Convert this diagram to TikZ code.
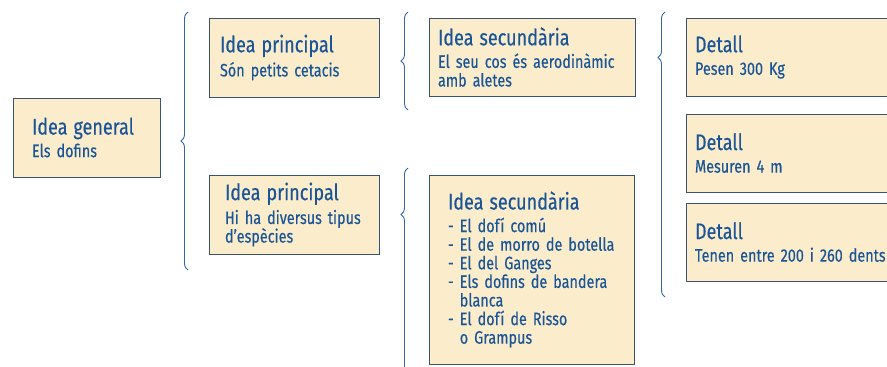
\documentclass[tikz,border=0pt]{standalone}
\usepackage{fontspec}
\setmainfont[FakeStretch=0.8, WordSpace=0.85, FakeBold=0.35]{Fira Sans}
\usepackage{xcolor}
\usepackage{tikz}
\usetikzlibrary{positioning, decorations.pathreplacing}
\definecolor{boxfill}{HTML}{FBEDCB}
\definecolor{boxline}{HTML}{3A5470}
\definecolor{inktext}{HTML}{1A5597}
\definecolor{bracecol}{HTML}{3466A3}
\newcommand{\boxtitle}[1]{{\fontsize{22.5}{24}\selectfont #1}}

\begin{document}
\begin{tikzpicture}[x=1pt, y=-1pt,
    ideabox/.style={draw=boxline, fill=boxfill, line width=0.8pt, text=inktext,
      align=left, inner ysep=0pt, font=\fontsize{18}{18.6}\selectfont},
    brc/.style={draw=bracecol, line width=0.9pt, decorate,
      decoration={brace, amplitude=7pt}}]
    \useasboundingbox (0,0) rectangle (887,367);
    \clip (0,0) rectangle (887,367);

    % first column
    \node[ideabox, minimum height=79pt, text width=109pt, inner xsep=19pt] (gen) at (86.5,137.5){%
      \boxtitle{Idea general}\\[4pt]
      Els dofins};

    % second column
    \node[ideabox, minimum height=79pt, text width=148pt, inner xsep=11pt] (pri1) at (294,57.5){%
      \boxtitle{Idea principal}\\[4pt]
      Són petits cetacis};
    \node[ideabox, minimum height=79pt, text width=138pt, inner xsep=16pt] (pri2) at (294,214.5){%
      \boxtitle{Idea principal}\\[4pt]
      Hi ha diversus tipus\\
      d’espècies};

    % third column
    \node[ideabox, minimum height=78pt, text width=188pt, inner xsep=9pt] (sec1) at (532,57){%
      \boxtitle{Idea secundària}\\[4pt]
      El seu cos és aerodinàmic\\
      amb aletes};
    \node[ideabox, minimum height=189pt, text width=167pt, inner xsep=19pt] (sec2) at (531.5,269.5){%
      \boxtitle{Idea secundària}\\[4pt]
      - El dofí comú\\
      - El de morro de botella\\
      - El del Ganges\\
      - Els dofins de bandera\\
      \phantom{- }blanca\\
      - El dofí de Risso\\
      \phantom{- }o Grampus};

    % details
    \node[ideabox, minimum height=78pt, text width=206pt, inner xsep=9pt] (det1) at (798,57){%
      \boxtitle{Detall}\\[4pt]
      Pesen 300 Kg};
    \node[ideabox, minimum height=78pt, text width=206pt, inner xsep=9pt] (det2) at (798,153){%
      \boxtitle{Detall}\\[4pt]
      Mesuren 4 m};
    \node[ideabox, minimum height=78pt, text width=206pt, inner xsep=9pt] (det3) at (798,242){%
      \boxtitle{Detall}\\[4pt]
      Tenen entre 200 i 260 dents};

    % braces
    \draw[brc] (188,270) -- (188,12);
    \draw[brc] (408,110) -- (408,12);
    \draw[brc, decoration={aspect=0.8}] (408,400) -- (408,168);
    \draw[brc, decoration={aspect=0.84}] (665,297) -- (665,12);
  \end{tikzpicture}
\end{document}
